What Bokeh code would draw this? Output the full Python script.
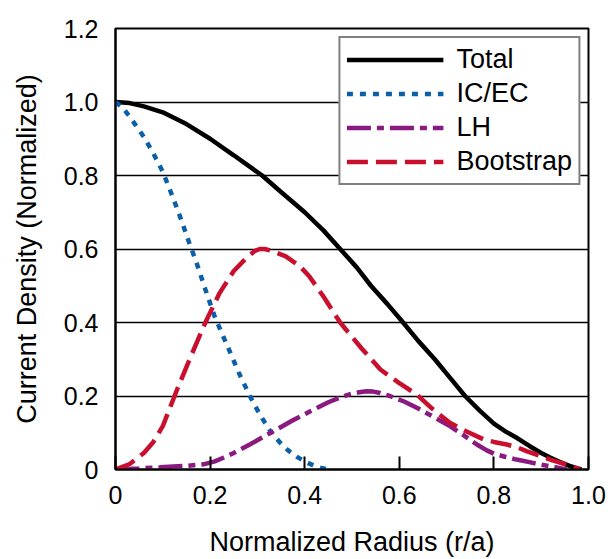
import math
from bokeh.plotting import figure
from bokeh.models import Legend, LegendItem, Label, FixedTicker
from bokeh.embed import file_html
from bokeh.resources import INLINE

# ---- data ----
total_r = [0, 0.03, 0.06, 0.1, 0.15, 0.2, 0.25, 0.31, 0.35, 0.4, 0.44, 0.475, 0.51, 0.54, 0.575,
           0.608, 0.64, 0.675, 0.707, 0.739, 0.77, 0.8, 0.825, 0.85, 0.875, 0.9, 0.92, 0.94, 0.96, 0.975, 0.985]
total_v = [1.0, 0.997, 0.988, 0.972, 0.94, 0.90, 0.855, 0.80, 0.755, 0.70, 0.65, 0.60, 0.55, 0.50, 0.45,
           0.40, 0.35, 0.30, 0.25, 0.20, 0.16, 0.125, 0.103, 0.085, 0.064, 0.045, 0.032, 0.02, 0.01, 0.004, 0.0]

icec_r = [0, 0.015, 0.03, 0.06, 0.08, 0.1, 0.12, 0.136, 0.155, 0.172, 0.19, 0.21, 0.242, 0.26, 0.284,
          0.305, 0.327, 0.35, 0.365, 0.383, 0.4, 0.42, 0.435, 0.45]
icec_v = [1.0, 0.985, 0.96, 0.905, 0.86, 0.81, 0.745, 0.69, 0.62, 0.56, 0.49, 0.415, 0.32, 0.265, 0.2,
          0.15, 0.105, 0.07, 0.052, 0.035, 0.022, 0.01, 0.004, 0.0]

lh_r = [0, 0.05, 0.094, 0.15, 0.186, 0.21, 0.228, 0.25, 0.284, 0.31, 0.341, 0.375, 0.411, 0.45,
        0.475, 0.496, 0.515, 0.531, 0.545, 0.56, 0.58, 0.61, 0.637, 0.67, 0.707, 0.735, 0.764, 0.785,
        0.8, 0.825, 0.848, 0.875, 0.897, 0.93, 0.954]
lh_v = [0.0, 0.003, 0.006, 0.01, 0.014, 0.022, 0.032, 0.045, 0.068, 0.087, 0.109, 0.134, 0.158, 0.183,
        0.196, 0.205, 0.21, 0.213, 0.212, 0.208, 0.2, 0.185, 0.168, 0.145, 0.118, 0.094, 0.068, 0.052,
        0.043, 0.034, 0.027, 0.02, 0.014, 0.006, 0.0]

boot_r = [0, 0.03, 0.06, 0.08, 0.1, 0.13, 0.16, 0.19, 0.22, 0.25, 0.28, 0.295, 0.305, 0.315, 0.33, 0.36, 0.39,
          0.41, 0.44, 0.475, 0.52, 0.56, 0.6, 0.637, 0.67, 0.707, 0.74, 0.778, 0.8, 0.827, 0.85, 0.869, 0.895,
          0.919, 0.95, 0.982]
boot_v = [0.0, 0.015, 0.045, 0.075, 0.118, 0.217, 0.31, 0.40, 0.48, 0.54, 0.58, 0.595, 0.60, 0.60, 0.595, 0.58,
          0.553, 0.525, 0.47, 0.40, 0.33, 0.272, 0.235, 0.204, 0.165, 0.127, 0.105, 0.082, 0.075, 0.068, 0.06,
          0.05, 0.038, 0.027, 0.015, 0.0]

x_ticks = [0, 0.2, 0.4, 0.6, 0.8, 1.0]
x_tick_labels = ["0", "0.2", "0.4", "0.6", "0.8", "1.0"]
y_ticks = [0, 0.2, 0.4, 0.6, 0.8, 1.0, 1.2]
y_tick_labels = ["0", "0.2", "0.4", "0.6", "0.8", "1.0", "1.2"]

FONT = "Liberation Sans"

p = figure(width=612, height=559, x_range=(0, 1.0), y_range=(0, 1.2),
           output_backend="svg", toolbar_location=None,
           min_border_left=115, min_border_right=24, min_border_top=28, min_border_bottom=89)
p.background_fill_color = "white"
p.border_fill_color = "white"
p.outline_line_color = "black"
p.outline_line_width = 2

p.xgrid.grid_line_color = None
p.ygrid.grid_line_color = "black"
p.ygrid.grid_line_width = 1.5
p.ygrid.ticker = FixedTicker(ticks=y_ticks)

p.xaxis.ticker = FixedTicker(ticks=x_ticks)
p.yaxis.ticker = FixedTicker(ticks=y_ticks)
p.xaxis.major_label_overrides = {t: l for t, l in zip(x_ticks, x_tick_labels)}
p.yaxis.major_label_overrides = {t: l for t, l in zip(y_ticks, y_tick_labels)}

for ax in (p.xaxis[0], p.yaxis[0]):
    ax.axis_line_color = "black"
    ax.axis_line_width = 2
    ax.minor_tick_line_color = None
    ax.major_tick_out = 0
    ax.major_label_text_font = FONT
    ax.major_label_text_font_size = "25px"
    ax.major_label_text_color = "black"
    ax.axis_label_text_font = FONT
    ax.axis_label_text_font_size = "27px"
    ax.axis_label_text_font_style = "normal"
    ax.axis_label_text_color = "black"

p.xaxis.major_tick_in = 13
p.xaxis.major_tick_line_width = 2
p.xaxis.major_tick_line_color = "black"
p.yaxis.major_tick_in = 0
p.yaxis.major_tick_line_color = None

p.xaxis.axis_label = "Normalized Radius (r/a)"
p.yaxis.axis_label = "Current Density (Normalized)"
p.xaxis.major_label_standoff = 16
p.xaxis.axis_label_standoff = 20
p.yaxis.major_label_standoff = 17
p.yaxis.axis_label_standoff = 19

r_total = p.line(total_r, total_v, line_color="black", line_width=4.5)
r_icec = p.line(icec_r, icec_v, line_color="#0b5fa8", line_width=4.5, line_dash="6 7")
r_lh = p.line(lh_r, lh_v, line_color="#8b1a80", line_width=4.5, line_dash="24 6 7 6")
r_boot = p.line(boot_r, boot_v, line_color="#c8102e", line_width=4.5, line_dash="21 8")

legend = Legend(items=[
    LegendItem(label="Total", renderers=[r_total]),
    LegendItem(label="IC/EC", renderers=[r_icec]),
    LegendItem(label="LH", renderers=[r_lh]),
    LegendItem(label="Bootstrap", renderers=[r_boot]),
], location="top_right")
legend.margin = 8
legend.padding = 6
legend.spacing = 3
legend.glyph_width = 97
legend.glyph_height = 31
legend.label_height = 31
legend.label_standoff = 13
legend.label_text_font = FONT
legend.label_text_font_size = "27px"
legend.label_text_color = "black"
legend.border_line_color = "black"
legend.border_line_width = 2
legend.background_fill_color = "white"
legend.background_fill_alpha = 1.0
p.add_layout(legend, "center")

# stray fragment of a subscript seen at the left edge of the reference
p.add_layout(Label(x=-0.222, y=0.32, text="e", angle=math.pi / 2,
                   text_font=FONT, text_font_size="15px", text_color="black",
                   text_align="center", text_baseline="middle"))

open("out.html", "w").write(file_html(p, INLINE))
